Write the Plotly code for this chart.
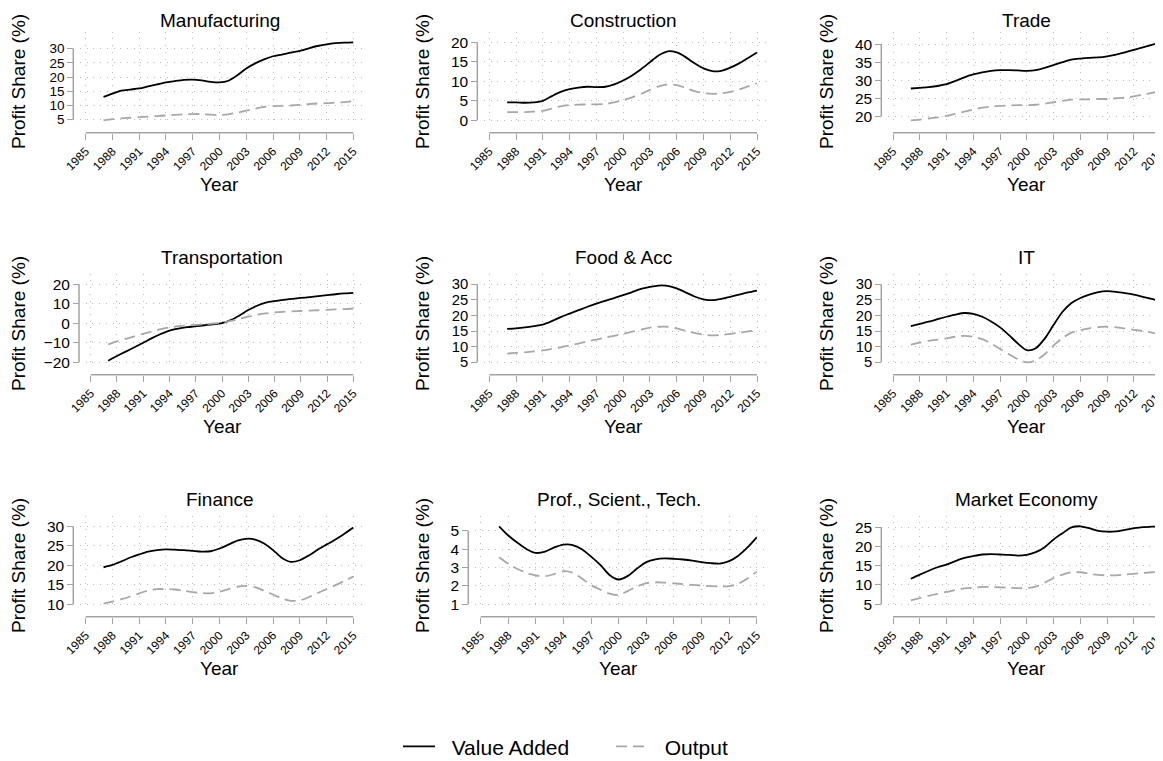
import plotly.graph_objects as go

# ---------------- data ----------------
years = list(range(1987, 2016))
x_ticks = [1985, 1988, 1991, 1994, 1997, 2000, 2003, 2006, 2009, 2012, 2015]

sector_titles = ["Manufacturing", "Construction", "Trade", "Transportation", "Food & Acc",
                 "IT", "Finance", "Prof., Scient., Tech.", "Market Economy"]
series_names = ["Value Added", "Output"]

va_manufacturing = [13.0, 14.2, 15.2, 15.6, 16.0, 16.7, 17.4, 18.1, 18.6, 19.0, 19.1, 18.8, 18.3, 18.1, 18.7,
                    20.6, 23.0, 24.8, 26.2, 27.3, 27.9, 28.6, 29.2, 30.1, 30.9, 31.5, 31.9, 32.1, 32.2]
out_manufacturing = [4.8, 5.2, 5.5, 5.7, 5.9, 6.1, 6.3, 6.5, 6.7, 6.9, 7.0, 7.0, 6.8, 6.7, 6.9,
                     7.5, 8.2, 8.9, 9.5, 9.8, 9.9, 10.0, 10.2, 10.5, 10.7, 10.8, 11.0, 11.2, 11.5]

va_construction = [4.6, 4.6, 4.5, 4.6, 5.0, 6.2, 7.3, 8.0, 8.4, 8.6, 8.5, 8.6, 9.2, 10.2, 11.5,
                   13.1, 14.9, 16.7, 17.7, 17.4, 16.2, 14.6, 13.3, 12.6, 12.7, 13.5, 14.6, 16.0, 17.4]
out_construction = [2.1, 2.1, 2.1, 2.2, 2.4, 3.0, 3.6, 3.9, 4.0, 4.1, 4.1, 4.2, 4.6, 5.2, 5.9,
                    6.8, 7.8, 8.7, 9.2, 9.0, 8.3, 7.5, 7.0, 6.8, 6.9, 7.3, 7.9, 8.7, 9.5]

va_trade = [27.7, 27.9, 28.1, 28.4, 28.9, 29.8, 30.8, 31.6, 32.2, 32.6, 32.8, 32.8, 32.7, 32.6, 32.8,
            33.4, 34.2, 35.0, 35.7, 36.0, 36.2, 36.3, 36.6, 37.1, 37.7, 38.4, 39.1, 39.8, 40.5]
out_trade = [18.9, 19.1, 19.4, 19.7, 20.1, 20.7, 21.3, 21.9, 22.4, 22.7, 22.9, 23.0, 23.1, 23.1, 23.2,
             23.5, 23.9, 24.3, 24.6, 24.7, 24.7, 24.8, 24.8, 25.0, 25.2, 25.5, 26.0, 26.5, 27.0]

va_transportation = [-19.2, -16.8, -14.5, -12.3, -10.0, -7.6, -5.5, -3.7, -2.7, -2.0, -1.5, -1.0, -0.5, 0.1, 1.6,
                     4.0, 6.8, 9.0, 10.6, 11.4, 12.0, 12.5, 13.0, 13.4, 13.9, 14.4, 14.9, 15.3, 15.6]
out_transportation = [-10.8, -9.3, -8.0, -6.7, -5.4, -4.2, -3.0, -2.1, -1.5, -1.1, -0.8, -0.5, -0.1, 0.4, 1.2,
                      2.3, 3.4, 4.4, 5.1, 5.6, 5.9, 6.1, 6.3, 6.5, 6.7, 6.9, 7.1, 7.3, 7.6]

va_food = [15.7, 15.9, 16.2, 16.6, 17.1, 18.2, 19.5, 20.6, 21.7, 22.8, 23.8, 24.7, 25.6, 26.5, 27.5,
           28.5, 29.2, 29.6, 29.5, 28.7, 27.4, 26.1, 25.2, 24.9, 25.3, 26.0, 26.7, 27.4, 28.0]
out_food = [7.8, 8.0, 8.2, 8.5, 8.8, 9.3, 9.8, 10.4, 11.0, 11.7, 12.3, 12.9, 13.5, 14.1, 14.8,
            15.5, 16.1, 16.4, 16.4, 15.9, 15.1, 14.4, 13.9, 13.6, 13.8, 14.1, 14.5, 14.9, 15.3]

va_it = [16.6, 17.3, 18.0, 18.8, 19.6, 20.3, 20.8, 20.5, 19.6, 18.1, 16.2, 13.7, 11.0, 8.9, 9.5,
         12.6, 17.0, 21.2, 24.0, 25.6, 26.7, 27.5, 27.8, 27.6, 27.2, 26.7, 26.0, 25.3, 24.6]
out_it = [10.7, 11.3, 11.9, 12.3, 12.7, 13.2, 13.5, 13.2, 12.4, 11.0, 9.3, 7.6, 6.0, 5.0, 5.6,
          7.6, 10.4, 12.8, 14.5, 15.3, 15.9, 16.3, 16.4, 16.2, 15.8, 15.4, 15.0, 14.5, 13.9]

va_finance = [19.5, 20.1, 21.0, 22.0, 22.8, 23.5, 23.9, 24.1, 24.0, 23.9, 23.7, 23.5, 23.6, 24.3, 25.3,
              26.3, 26.8, 26.6, 25.6, 23.9, 21.9, 20.9, 21.3, 22.5, 24.0, 25.3, 26.6, 28.1, 29.7]
out_finance = [10.2, 10.7, 11.3, 12.0, 12.8, 13.5, 13.9, 13.9, 13.8, 13.5, 13.1, 12.9, 12.8, 13.2, 13.9,
               14.5, 14.7, 14.4, 13.5, 12.5, 11.5, 10.9, 11.0, 11.8, 12.9, 13.9, 14.9, 16.0, 17.1]

va_prof = [5.25, 4.75, 4.35, 4.0, 3.8, 3.87, 4.1, 4.25, 4.23, 4.0, 3.6, 3.15, 2.6, 2.35, 2.55,
           2.95, 3.3, 3.45, 3.5, 3.48, 3.44, 3.38, 3.3, 3.24, 3.22, 3.35, 3.65, 4.1, 4.65]
out_prof = [3.56, 3.2, 2.92, 2.7, 2.57, 2.53, 2.65, 2.8, 2.72, 2.4, 2.05, 1.8, 1.58, 1.5, 1.73,
            1.97, 2.15, 2.2, 2.18, 2.14, 2.1, 2.06, 2.02, 1.99, 1.98, 1.99, 2.12, 2.4, 2.78]

va_market = [11.6, 12.7, 13.7, 14.6, 15.3, 16.2, 17.0, 17.5, 17.9, 18.0, 17.9, 17.8, 17.6, 17.8, 18.5,
             19.8, 21.8, 23.4, 24.9, 25.2, 24.7, 24.0, 23.8, 23.9, 24.3, 24.7, 25.0, 25.1, 25.2]
out_market = [6.0, 6.6, 7.2, 7.7, 8.2, 8.7, 9.1, 9.3, 9.5, 9.5, 9.4, 9.3, 9.2, 9.2, 9.6,
              10.6, 11.8, 12.7, 13.3, 13.3, 12.9, 12.6, 12.5, 12.5, 12.7, 12.9, 13.1, 13.3, 13.4]

yticks_manufacturing = [5, 10, 15, 20, 25, 30]
yticks_construction = [0, 5, 10, 15, 20]
yticks_trade = [20, 25, 30, 35, 40]
yticks_transportation = [-20, -10, 0, 10, 20]
yticks_food = [5, 10, 15, 20, 25, 30]
yticks_it = [5, 10, 15, 20, 25, 30]
yticks_finance = [10, 15, 20, 25, 30]
yticks_prof = [1, 2, 3, 4, 5]
yticks_market = [5, 10, 15, 20, 25]

va_series = [va_manufacturing, va_construction, va_trade, va_transportation, va_food,
             va_it, va_finance, va_prof, va_market]
out_series = [out_manufacturing, out_construction, out_trade, out_transportation, out_food,
              out_it, out_finance, out_prof, out_market]
y_ticks = [yticks_manufacturing, yticks_construction, yticks_trade, yticks_transportation, yticks_food,
           yticks_it, yticks_finance, yticks_prof, yticks_market]

# ---------------- layout geometry (page pixels) ----------------
PAGE_W, PAGE_H = 1163, 761
BODY = 8                      # default page body margin
FW, FH = PAGE_W - BODY, PAGE_H - BODY


def fx(px):
    return min(max((px - BODY) / FW, 0.0), 1.0)


def fy(py):
    return min(max(1 - (py - BODY) / FH, 0.0), 1.0)


ROW_OFF = [0, 242, 484]
COL_OFF = [0, 404, 808]
# per panel: y-axis line x, x of first tick, x of last tick
PANEL_X = [(73.3, 85.7, 353.3), (477.3, 489.3, 757.0), (881.3, 893.0, 1160.7),
           (79.0, 90.7, 353.3), (477.3, 489.3, 757.0), (881.3, 893.0, 1160.7),
           (73.3, 85.7, 353.3), (468.3, 480.7, 756.7), (881.3, 893.0, 1160.7)]

FONT = "Liberation Sans, Arial, Helvetica, sans-serif"
AXIS_GREY = "#a3a3a3"
GRID_GREY = "#bdbdbd"
OUT_GREY = "#a8a8a8"

fig = go.Figure()
shapes = []
annotations = []

for i in range(9):
    row, col = i // 3, i % 3
    ro = ROW_OFF[row]
    n = "" if i == 0 else str(i + 1)
    ya_px, xa_px, xb_px = PANEL_X[i]

    # x mapping
    left = ya_px + 6.7
    right = min(xb_px + 11.7, PAGE_W)
    sx = (xb_px - xa_px) / (x_ticks[-1] - x_ticks[0])
    xr0 = x_ticks[0] + (left - xa_px) / sx
    xr1 = x_ticks[-1] + (right - xb_px) / sx

    # y mapping
    top, bottom = 31.7 + ro, 122.0 + ro
    ext_hi_px, ext_lo_px = 42.3 + ro, 120.3 + ro
    lo = min(min(va_series[i]), min(out_series[i]), min(y_ticks[i]))
    hi = max(max(va_series[i]), max(out_series[i]), max(y_ticks[i]))
    sy = (ext_lo_px - ext_hi_px) / (hi - lo)
    yr0 = lo - (bottom - ext_lo_px) / sy
    yr1 = hi + (ext_hi_px - top) / sy
    xaxis_px = 132.7 + ro
    tick_gap_px = (y_ticks[i][1] - y_ticks[i][0]) * sy
    ytick_size = min(15.5, tick_gap_px * 0.95)

    fig.add_trace(go.Scatter(x=years, y=va_series[i], mode="lines", name="\u00a0\u00a0" + series_names[0],
                             line=dict(color="black", width=1.8, shape="spline", smoothing=0.8),
                             showlegend=(i == 0), xaxis="x" + n, yaxis="y" + n, hoverinfo="skip"))
    fig.add_trace(go.Scatter(x=years, y=out_series[i], mode="lines", name="\u00a0\u00a0" + series_names[1],
                             line=dict(color=OUT_GREY, width=1.8, dash="11px,6px", shape="spline", smoothing=0.8),
                             showlegend=(i == 0), xaxis="x" + n, yaxis="y" + n, hoverinfo="skip"))

    fig.update_layout(**{
        "xaxis" + n: dict(domain=[fx(left), fx(right)], range=[xr0, xr1], anchor="free",
                          position=fy(xaxis_px), tickmode="array", tickvals=x_ticks,
                          ticktext=[str(t) for t in x_ticks], tickangle=-45,
                          ticks="outside", ticklen=6, tickwidth=1.3, tickcolor=AXIS_GREY,
                          tickfont=dict(size=12, color="black", family=FONT), ticklabeloverflow="allow",
                          showline=False, zeroline=False, showgrid=True, gridcolor=GRID_GREY,
                          gridwidth=1, griddash="1px,5.7px", fixedrange=True, automargin=False),
        "yaxis" + n: dict(domain=[fy(bottom), fy(top)], range=[yr0, yr1], anchor="free",
                          position=fx(ya_px), tickmode="array", tickvals=y_ticks[i],
                          ticks="outside", ticklen=6, tickwidth=1.3, tickcolor=AXIS_GREY,
                          tickfont=dict(size=ytick_size, color="black", family=FONT),
                          showline=False, zeroline=False, showgrid=True, gridcolor=GRID_GREY,
                          gridwidth=1, griddash="1px,5.7px", fixedrange=True, automargin=False),
    })

    # detached axis lines spanning the tick range
    shapes.append(dict(type="line", xref="x" + n, yref="paper", x0=x_ticks[0], x1=x_ticks[-1],
                       y0=fy(xaxis_px), y1=fy(xaxis_px), line=dict(color=AXIS_GREY, width=1.5)))
    shapes.append(dict(type="line", xref="paper", yref="y" + n, x0=fx(ya_px), x1=fx(ya_px),
                       y0=min(y_ticks[i]), y1=max(y_ticks[i]), line=dict(color=AXIS_GREY, width=1.5)))

    cx = fx((xa_px + xb_px) / 2)
    if row == 0:
        title_pos = dict(y=1.0, yanchor="top")
    else:
        title_pos = dict(y=fy(15.5 + ro), yanchor="middle")
    annotations.append(dict(text=sector_titles[i], x=cx, xref="paper", yref="paper",
                            showarrow=False, xanchor="center", **title_pos,
                            font=dict(size=19, color="black", family=FONT)))
    annotations.append(dict(text="Year", x=cx, y=fy(184.7 + ro), xref="paper", yref="paper",
                            showarrow=False, xanchor="center", yanchor="middle",
                            font=dict(size=19, color="black", family=FONT)))
    annotations.append(dict(text="Profit Share (%)", x=fx(18.5 + COL_OFF[col]), y=fy(81.5 + ro),
                            xref="paper", yref="paper", showarrow=False, textangle=-90,
                            xanchor="center", yanchor="middle",
                            font=dict(size=19, color="black", family=FONT)))

fig.update_layout(
    width=FW, height=FH, autosize=False,
    margin=dict(l=0, r=0, t=0, b=0, pad=0, autoexpand=False),
    paper_bgcolor="white", plot_bgcolor="white",
    font=dict(family=FONT, color="black"),
    shapes=shapes, annotations=annotations,
    showlegend=True,
    legend=dict(orientation="h", x=fx(398), xanchor="left", y=fy(746.7), yanchor="middle",
                font=dict(size=21, color="black", family=FONT), itemwidth=32,
                entrywidth=166, entrywidthmode="pixels", bgcolor="rgba(0,0,0,0)",
                tracegroupgap=0, itemclick=False, itemdoubleclick=False),
)

fig.write_html("out.html")
